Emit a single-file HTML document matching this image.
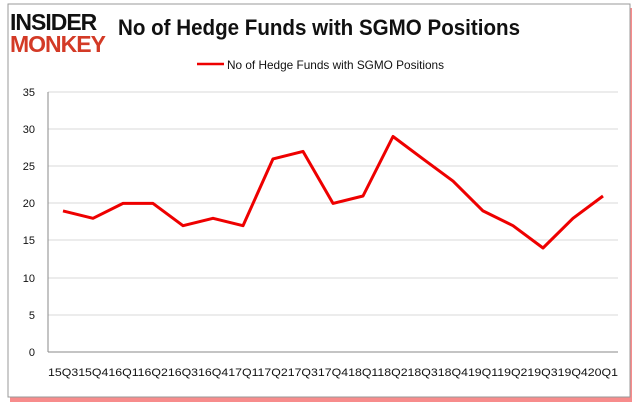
<!DOCTYPE html>
<html><head><style>
body{margin:0;background:#fff;}
</style></head><body>
<svg width="637" height="408" xmlns="http://www.w3.org/2000/svg" font-family="Liberation Sans, sans-serif">
<rect x="10" y="8" width="622" height="394" fill="#e00" opacity="0.45"/>
<rect x="8" y="4" width="622" height="393" fill="#fff" stroke="#999" stroke-width="1"/>
<text x="10" y="30" font-size="23" font-weight="bold" fill="#111" letter-spacing="-1">INSIDER</text>
<text x="10" y="52" font-size="23" font-weight="bold" fill="#d33a26" letter-spacing="-1">MONKEY</text>
<text x="118" y="35" font-size="22" font-weight="bold" fill="#111" textLength="402" lengthAdjust="spacingAndGlyphs">No of Hedge Funds with SGMO Positions</text>
<line x1="197" y1="64" x2="224" y2="64" stroke="#e00" stroke-width="2.5"/>
<text x="227" y="69" font-size="12" fill="#111" textLength="217" lengthAdjust="spacingAndGlyphs">No of Hedge Funds with SGMO Positions</text>
<g stroke="#d9d9d9" stroke-width="1">
<line x1="48" y1="92" x2="618" y2="92"/><line x1="48" y1="129" x2="618" y2="129"/>
<line x1="48" y1="166" x2="618" y2="166"/><line x1="48" y1="203" x2="618" y2="203"/>
<line x1="48" y1="240" x2="618" y2="240"/><line x1="48" y1="278" x2="618" y2="278"/>
<line x1="48" y1="315" x2="618" y2="315"/>
</g>
<g stroke="#888"><line x1="48" y1="92" x2="48" y2="352"/><line x1="48" y1="352" x2="618" y2="352"/></g>
<g font-size="11" fill="#111" text-anchor="end">
<text x="35" y="96">35</text><text x="35" y="133">30</text><text x="35" y="170">25</text>
<text x="35" y="207">20</text><text x="35" y="244">15</text><text x="35" y="282">10</text>
<text x="35" y="319">5</text><text x="35" y="356">0</text>
</g>
<text x="48" y="376" font-size="11" fill="#111" textLength="570" lengthAdjust="spacingAndGlyphs">15Q315Q416Q116Q216Q316Q417Q117Q217Q317Q418Q118Q218Q318Q419Q119Q219Q319Q420Q1</text>
<polyline fill="none" stroke="#e00" stroke-width="3" stroke-linejoin="round" points="63,210.9 93,218.3 123,203.4 153,203.4 183,225.7 213,218.3 243,225.7 273,158.9 303,151.4 333,203.4 363,196 393,136.5 423,158.9 453,181.1 483,210.9 513,225.7 543,248 573,218.3 603,196"/>
</svg>
</body></html>
